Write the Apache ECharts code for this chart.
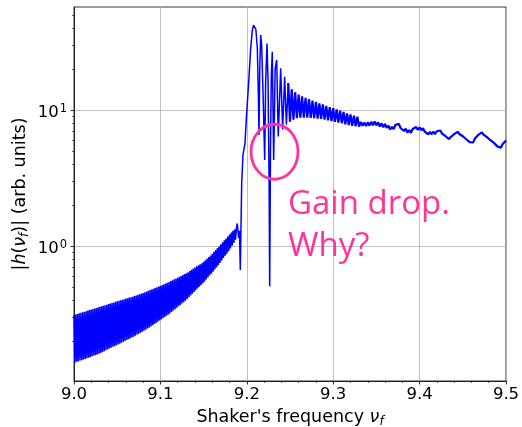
<!DOCTYPE html>
<html><head><meta charset="utf-8">
<script src="https://cdn.jsdelivr.net/npm/echarts@6/dist/echarts.min.js"></script>
<style>html,body{margin:0;padding:0;background:#fff}#c{width:522px;height:427px}</style>
</head><body><div id="c"></div>
<script>
// ---- axis values ----
const xMin = 9.0, xMax = 9.5, xInterval = 0.1;
const yMin = 0.1027, yMax = 57;
const yMajorTicks = [1, 10];
const yMinorTicks = [0.2, 0.3, 0.4, 0.5, 0.6, 0.7, 0.8, 0.9, 2, 3, 4, 5, 6, 7, 8, 9, 20, 30, 40, 50];

// ---- data: dense oscillation below resonance ----
// crests on grid 9.000, 9.002, ... ; troughs on grid 9.001, 9.003, ...
const bandStep = 0.002;
const bandUpperStart = 9.000;
const bandUpper = [
  .313,.316,.319,.322,.325,.328,.331,.334,.338,.341,.344,.347,.350,.353,.357,.360,
  .363,.366,.370,.373,.377,.380,.384,.387,.391,.395,.399,.402,.406,.409,.413,.416,
  .420,.423,.427,.431,.435,.440,.445,.450,.455,.460,.466,.471,.477,.482,.488,.494,
  .500,.506,.512,.519,.526,.533,.540,.547,.555,.563,.572,.580,.588,.597,.606,.615,
  .625,.634,.645,.658,.672,.686,.700,.713,.726,.739,.752,.770,.790,.812,.835,.857,
  .880,.910,.940,.970,1.00,1.035,1.07,1.105,1.14,1.18,1.22,1.26,1.30,1.33,1.36
];
const bandLowerStart = 9.001;
const bandLower = [
  .140,.142,.143,.145,.146,.148,.149,.151,.152,.154,.156,.158,.159,.161,.163,.165,
  .168,.170,.173,.175,.178,.180,.183,.185,.188,.190,.193,.196,.199,.202,.205,.208,
  .211,.214,.217,.221,.225,.228,.232,.236,.240,.244,.249,.253,.258,.263,.269,.274,
  .280,.285,.291,.297,.303,.309,.315,.322,.330,.338,.346,.354,.363,.371,.380,.389,
  .399,.410,.423,.436,.449,.463,.477,.491,.505,.519,.533,.550,.570,.590,.610,.630,
  .652,.676,.700,.726,.755,.786,.820,.852,.884,.920,.965,1.01,1.06,1.12
];

// ---- data: resonance and first ring-down spikes ----
const spikeFreq = [9.1890, 9.1905, 9.1915, 9.1925, 9.1941, 9.1956, 9.1979, 9.1994, 9.2022, 9.2045,
  9.2064, 9.2078, 9.2091, 9.2105, 9.2122, 9.2135, 9.2141, 9.2150, 9.2161, 9.2172,
  9.2190, 9.2207, 9.2218, 9.2234, 9.2246, 9.2258, 9.2265, 9.2274, 9.2284, 9.2295,
  9.2311, 9.2328, 9.2346, 9.2364, 9.2392, 9.2415, 9.2438, 9.2458, 9.2480];
const spikeAmp = [1.47, 1.15, 1.30, 0.67, 2.91, 4.7, 5.7, 8.5, 16.1, 28.4,
  38.6, 42.0, 42.5, 39.0, 28.4, 12.0, 6.56, 20.0, 35.5, 30.0,
  12.0, 4.3, 16.0, 30.8, 16.0, 3.0, 0.51, 5.0, 18.0, 26.8,
  4.3, 20.0, 23.3, 6.4, 20.2, 7.2, 17.5, 7.8, 15.8];

// ---- data: ring-down tail (grid 9.250, 9.252, ... 9.500) ----
const tailStart = 9.250, tailStep = 0.002;
const tailAmp = [
  8.2,14.2, 8.5,13.5, 8.7,13.0, 8.8,12.6, 8.8,12.3, 8.8,12.0, 8.75,11.7, 8.7,11.5,
  8.65,11.2, 8.6,11.0, 8.5,10.7, 8.4,10.5, 8.3,10.3, 8.2,10.1, 8.1,9.9, 8.0,9.7,
  7.85,9.45, 7.75,9.3, 7.65,9.1, 7.6,8.95, 7.55,8.19, 7.66,8.10, 7.62,8.13, 7.68,8.19,
  7.74,8.23, 7.71,8.12, 7.57,7.98, 7.47,7.90, 7.39,7.66, 7.20,7.52, 7.26,7.77, 7.53,7.91,
  7.36,7.55, 7.02,7.28, 6.84,7.12, 6.79,7.25, 7.02,7.50, 7.14,7.46, 7.10,7.35, 6.94,7.04,
  6.62,6.91, 6.64,6.94, 6.67,6.99, 6.76,7.07, 6.71,6.85, 6.42,6.51, 6.12,6.34, 6.23,6.65,
  6.53,6.92, 6.67,6.85, 6.42,6.51, 6.10,6.17, 5.81,5.98, 5.78,6.17, 6.13,6.58, 6.49,6.86,
  6.61,6.75, 6.32,6.41, 6.00,6.14, 5.74,5.79, 5.41,5.51, 5.28,5.61, 5.57,5.97
];

// ---- annotation ----
const circleCenter = [9.2321, 4.94];
const noteAnchor = [9.2477, 2.87];
const noteLines = ['Gain drop.', 'Why?'];

// ---- build series data ----
const headData = [];
bandUpper.forEach((v, i) => {
  headData.push([+(bandUpperStart + i * bandStep).toFixed(4), v]);
  if (i < bandLower.length) headData.push([+(bandLowerStart + i * bandStep).toFixed(4), bandLower[i]]);
});
spikeFreq.forEach((f, i) => headData.push([f, spikeAmp[i]]));
const tailData = [headData[headData.length - 1]];
tailAmp.forEach((v, i) => tailData.push([+(tailStart + i * tailStep).toFixed(4), v]));

const FONT = 'DejaVu Sans';
const PINK = '#ff3399';
const TICK_FS = 16.5, NAME_FS = 17.5;
const nameRich = {
  i: {fontFamily: FONT, fontStyle: 'italic', fontSize: NAME_FS, lineHeight: 22, color: '#000'},
  s: {fontFamily: FONT, fontStyle: 'italic', fontSize: 12, lineHeight: 12, verticalAlign: 'bottom', color: '#000'}
};

const chart = echarts.init(document.getElementById('c'), null, {renderer: 'canvas'});
chart.setOption({
  animation: false,
  backgroundColor: '#fff',
  grid: {left: 74, top: 7, width: 432, height: 374, containLabel: false, outerBoundsMode: 'none',
    show: true, borderColor: '#000', borderWidth: 0.8, backgroundColor: 'transparent'},
  xAxis: [{
    type: 'value', min: xMin, max: xMax, interval: xInterval,
    axisLine: {show: true, lineStyle: {color: '#000', width: 0.8}},
    axisTick: {show: true, length: 3.5, lineStyle: {color: '#000', width: 0.8}},
    minorTick: {show: true, splitNumber: 5, length: 2, lineStyle: {color: '#000', width: 0.6}},
    axisLabel: {fontFamily: FONT, fontSize: TICK_FS, color: '#000', margin: 5, formatter: v => v.toFixed(1)},
    splitLine: {show: true, lineStyle: {color: '#b0b0b0', width: 0.8}},
    name: "Shaker's frequency {i|ν}{s|f}",
    nameLocation: 'middle', nameGap: 25, nameMoveOverlap: false,
    nameTextStyle: {fontFamily: FONT, fontSize: NAME_FS, color: '#000', lineHeight: 22, rich: nameRich}
  }],
  yAxis: [{
    type: 'log', logBase: 10, min: yMin, max: yMax,
    axisLine: {show: true, lineStyle: {color: '#000', width: 0.8}},
    axisTick: {show: true, length: 3.5, customValues: yMajorTicks, lineStyle: {color: '#000', width: 0.8}},
    axisLabel: {customValues: yMajorTicks, margin: 7, fontFamily: FONT, fontSize: TICK_FS, color: '#000',
      formatter: v => {
        const e = Math.round(Math.log10(v));
        if (Math.abs(Math.log10(v) - e) > 1e-6) return '';
        return '{b|10}{p|' + e + '}';
      },
      rich: {b: {fontFamily: FONT, fontSize: TICK_FS, lineHeight: 20, padding: [5, 0, 0, 0], color: '#000'},
             p: {fontFamily: FONT, fontSize: 11.5, lineHeight: 12, padding: [3, 0, 0, 1], verticalAlign: 'top', color: '#000'}}},
    splitLine: {show: true, lineStyle: {color: '#b0b0b0', width: 0.8}},
    name: '|{i|h}({i|ν}{s|f})| (arb. units)',
    nameLocation: 'middle', nameGap: 43, nameMoveOverlap: false,
    nameTextStyle: {fontFamily: FONT, fontSize: NAME_FS, color: '#000', lineHeight: 22, rich: nameRich}
  }, {
    type: 'log', logBase: 10, min: yMin, max: yMax, position: 'left',
    axisLine: {show: false},
    axisTick: {show: true, length: 2, customValues: yMinorTicks, lineStyle: {color: '#000', width: 0.6}},
    axisLabel: {show: false},
    splitLine: {show: false}
  }],
  series: [{
    type: 'line', data: headData, xAxisIndex: 0, yAxisIndex: 0,
    showSymbol: false, symbol: 'none', sampling: null, clip: true,
    lineStyle: {color: '#0000ff', width: 1.5}, z: 3
  }, {
    type: 'line', data: tailData, xAxisIndex: 0, yAxisIndex: 0,
    showSymbol: false, symbol: 'none', sampling: null, clip: true,
    lineStyle: {color: '#0000ff', width: 2.2}, z: 3
  }, {
    type: 'custom', xAxisIndex: 0, yAxisIndex: 0, z: 5, clip: false,
    data: [circleCenter],
    renderItem: (params, api) => {
      const c = api.coord([api.value(0), api.value(1)]);
      return {type: 'ellipse', shape: {cx: c[0], cy: c[1], rx: 23.5, ry: 27.5},
        style: {fill: 'none', stroke: PINK, lineWidth: 2.8}};
    }
  }, {
    type: 'custom', xAxisIndex: 0, yAxisIndex: 0, z: 5, clip: false,
    data: [noteAnchor],
    renderItem: (params, api) => {
      const c = api.coord([api.value(0), api.value(1)]);
      return {type: 'text', x: c[0], y: c[1],
        style: {text: noteLines.join('\n'), fill: PINK, fontFamily: 'Open Sans', fontSize: 33,
          lineHeight: 42, align: 'left', verticalAlign: 'top'}};
    }
  }]
});
</script>
</body></html>
